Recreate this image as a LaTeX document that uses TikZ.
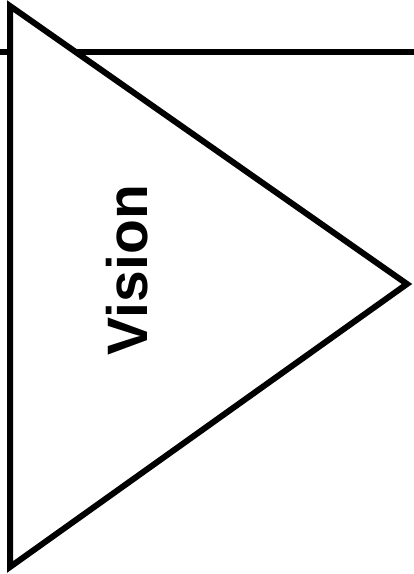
\documentclass[tikz,border=0pt]{standalone}
\usepackage{fontspec}
\setmainfont{Liberation Sans}
\usetikzlibrary{positioning}

\begin{document}
\begin{tikzpicture}[x=1pt, y=-1pt,
        edge/.style={draw=black, line width=6pt},
        tri/.style={draw=black, line width=6pt, fill=white, line join=miter},
        label/.style={rotate=90, inner sep=0pt, font=\bfseries\fontsize{57}{60}\selectfont}
      ]
\useasboundingbox (0,0) rectangle (414,574);

\coordinate (lineL) at (0,52);
      \coordinate (lineR) at (414,52);
      \coordinate (top) at (10,6);
      \coordinate (bottom) at (10,567);
      \coordinate (tip) at (407,284);

\draw[edge] (lineL) -- (lineR);
      \draw[tri] (top) -- (tip) -- (bottom) -- cycle;

\node[label] (vision) at (127,270) {Vision};

      \end{tikzpicture}
\end{document}
